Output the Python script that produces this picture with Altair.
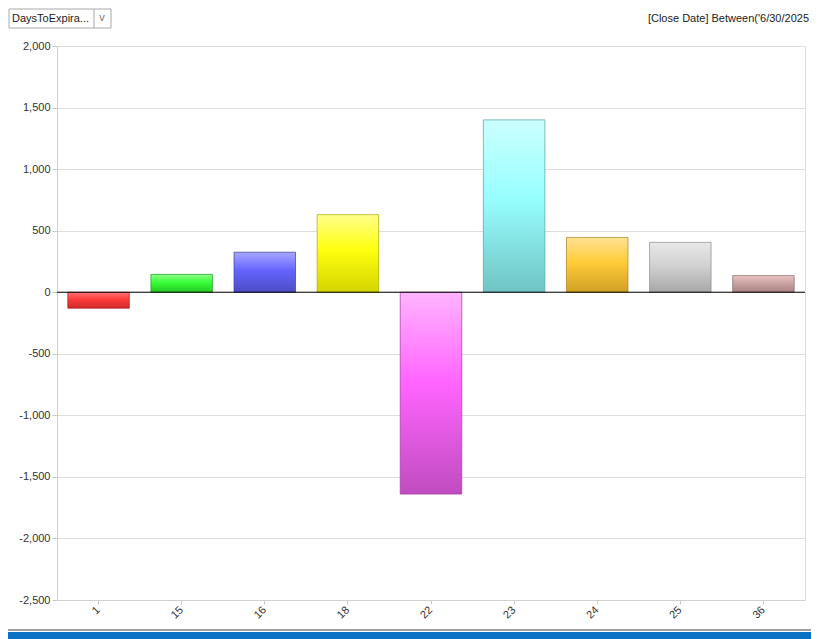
import altair as alt
import pandas as pd

# ---- data ----
categories = ["1", "15", "16", "18", "22", "23", "24", "25", "36"]
values = [-130, 145, 325, 630, -1640, 1400, 445, 405, 135]
top_colors = ["#ff7474", "#8cff8c", "#a8a8ff", "#ffff8c", "#ffb4ff", "#ccffff", "#ffe294", "#e8e8e8", "#ecc4c4"]
mid_colors = ["#ff3a3a", "#38ff38", "#6464ff", "#ffff10", "#ff64ff", "#98ffff", "#ffcc38", "#d2d2d2", "#caa2a2"]
bottom_colors = ["#cc2a2a", "#24c824", "#4c4cc4", "#d4d400", "#c04cc0", "#70c4c4", "#d0a024", "#a8a8a8", "#a88282"]
edge_colors = ["#a82020", "#1c9c1c", "#3c3c9c", "#a8a800", "#9c3c9c", "#5c9c9c", "#a8801c", "#8c8c8c", "#8c6c6c"]
y_ticks = [-2500, -2000, -1500, -1000, -500, 0, 500, 1000, 1500, 2000]

df = pd.DataFrame({"cat": categories, "value": values})
one = pd.DataFrame({"k": [0]})

W, H = 748, 554
FONT = "Liberation Sans"

x_enc = alt.X(
    "cat:N",
    sort=categories,
    scale=alt.Scale(paddingInner=0.26, paddingOuter=0.13),
    axis=alt.Axis(
        title=None, labelAngle=-45, labelAlign="right", labelBaseline="middle",
        labelPadding=4, tickSize=4, tickColor="#c8c8c8", domainColor="#d0d0d0",
        labelColor="#333333", labelFont=FONT, labelFontSize=11, grid=False,
    ),
)
y_enc = alt.Y(
    "value:Q",
    scale=alt.Scale(domain=[-2500, 2000], nice=False, zero=False),
    axis=alt.Axis(
        title=None, values=y_ticks,
        labelExpr="replace(format(datum.value, ',.0f'), '\u2212', '-')",
        tickSize=5, tickColor="#c8c8c8",
        domainColor="#d0d0d0", gridColor="#dedede", grid=True, labelPadding=2,
        labelColor="#333333", labelFont=FONT, labelFontSize=11,
    ),
)

layers = []
for i, c in enumerate(categories):
    grad = alt.LinearGradient(
        gradient="linear", x1=0, y1=0, x2=0, y2=1,
        stops=[
            alt.GradientStop(color=top_colors[i], offset=0),
            alt.GradientStop(color=mid_colors[i], offset=0.45),
            alt.GradientStop(color=bottom_colors[i], offset=1),
        ],
    )
    layers.append(
        alt.Chart(df)
        .transform_filter(alt.datum.cat == c)
        .mark_bar(color=grad, stroke=edge_colors[i], strokeWidth=1, strokeOpacity=0.7)
        .encode(x=x_enc, y=y_enc)
    )

zero_rule = alt.Chart(one).mark_rule(color="black", strokeWidth=1).encode(
    y=alt.datum(0), x=alt.value(0), x2=alt.value(W)
)

# ---- window decorations ----
box = alt.Chart(one).mark_rect(fill="white", stroke="#a8a8a8", strokeWidth=1).encode(
    x=alt.value(-48), x2=alt.value(54), y=alt.value(-37), y2=alt.value(-18)
)
sep = alt.Chart(one).mark_rule(color="#a8a8a8").encode(
    x=alt.value(37), y=alt.value(-37), y2=alt.value(-18)
)
dd_text = alt.Chart(one).mark_text(
    text="DaysToExpira...", align="left", baseline="middle", font=FONT, fontSize=11, color="#222222"
).encode(x=alt.value(-45), y=alt.value(-27))
chev = alt.Chart(one).mark_text(
    text="v", align="center", baseline="middle", font=FONT, fontSize=11, color="#777777"
).encode(x=alt.value(45), y=alt.value(-28))
filter_text = alt.Chart(one).mark_text(
    text="[Close Date] Between('6/30/2025", align="right", baseline="middle", font=FONT,
    fontSize=11, color="#222222"
).encode(x=alt.value(752), y=alt.value(-27))
bottom_bar = alt.Chart(one).mark_rect(fill="#0a72c4").encode(
    x=alt.value(-60), x2=alt.value(820), y=alt.value(586), y2=alt.value(600)
)
bottom_line = alt.Chart(one).mark_rule(color="#a0a0a0", strokeWidth=2).encode(
    x=alt.value(-60), x2=alt.value(820), y=alt.value(584)
)

chart = alt.layer(
    *layers, zero_rule, box, sep, dd_text, chev, filter_text, bottom_line, bottom_bar
).properties(
    width=W, height=H,
    autosize=alt.AutoSizeParams(type="none"),
    padding={"left": 49, "top": 38, "right": 6, "bottom": 39},
).configure_view(stroke=None).configure(background="white")

chart.save("out.html", embed_options={"renderer": "svg", "actions": False})
